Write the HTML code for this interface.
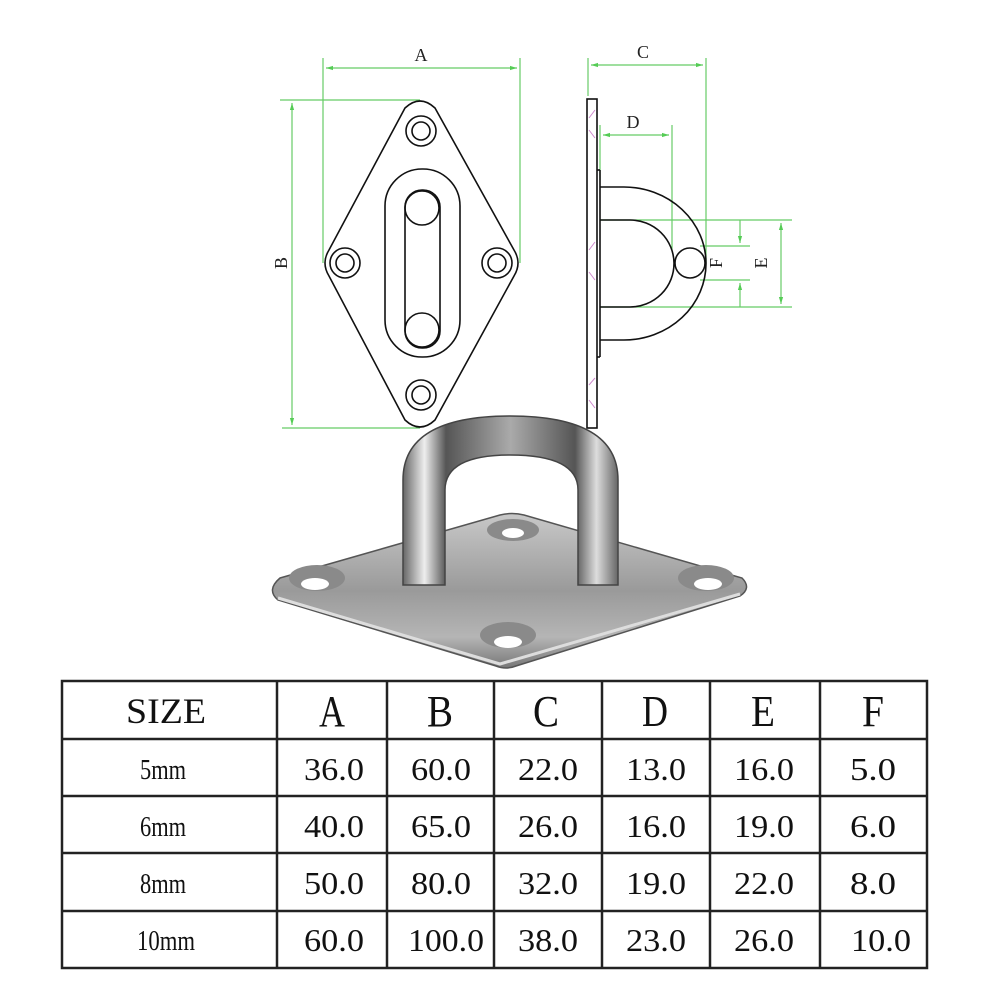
<!DOCTYPE html>
<html><head><meta charset="utf-8"><style>
html,body{margin:0;padding:0;background:#fff;}
svg{display:block}
</style></head><body>
<svg width="1001" height="1001" viewBox="0 0 1001 1001" xmlns="http://www.w3.org/2000/svg" font-family="Liberation Serif, serif">
<defs>
<marker id="ar" viewBox="0 0 10 10" refX="10" refY="5" markerWidth="6" markerHeight="6" orient="auto-start-reverse"><path d="M0,2 L10,5 L0,8z" fill="#5c5"/></marker>
<linearGradient id="plate" x1="0" y1="0" x2="0" y2="1"><stop offset="0" stop-color="#c8c8c8"/><stop offset="0.5" stop-color="#9a9a9a"/><stop offset="0.8" stop-color="#b5b5b5"/><stop offset="1" stop-color="#777"/></linearGradient>
<linearGradient id="loop" x1="0" y1="0" x2="1" y2="0"><stop offset="0" stop-color="#666"/><stop offset="0.1" stop-color="#eee"/><stop offset="0.2" stop-color="#555"/><stop offset="0.5" stop-color="#aaa"/><stop offset="0.8" stop-color="#555"/><stop offset="0.9" stop-color="#ddd"/><stop offset="1" stop-color="#666"/></linearGradient>
</defs>
<g stroke="#6c6" stroke-width="1.2" fill="none">
<line x1="323" y1="58" x2="323" y2="263"/><line x1="520" y1="58" x2="520" y2="263"/>
<line x1="326" y1="68" x2="517" y2="68" marker-start="url(#ar)" marker-end="url(#ar)"/>
<line x1="280" y1="100" x2="420" y2="100"/><line x1="282" y1="428" x2="420" y2="428"/>
<line x1="292" y1="103" x2="292" y2="425" marker-start="url(#ar)" marker-end="url(#ar)"/>
<line x1="588" y1="58" x2="588" y2="96"/><line x1="706" y1="58" x2="706" y2="263"/>
<line x1="591" y1="65" x2="703" y2="65" marker-start="url(#ar)" marker-end="url(#ar)"/>
<line x1="600" y1="125" x2="600" y2="180"/><line x1="672" y1="125" x2="672" y2="250"/>
<line x1="603" y1="135" x2="669" y2="135" marker-start="url(#ar)" marker-end="url(#ar)"/>
<line x1="600" y1="220" x2="792" y2="220"/><line x1="600" y1="307" x2="792" y2="307"/>
<line x1="700" y1="246" x2="750" y2="246"/><line x1="700" y1="280" x2="750" y2="280"/>
<line x1="740" y1="220" x2="740" y2="243" marker-end="url(#ar)"/><line x1="740" y1="307" x2="740" y2="283" marker-end="url(#ar)"/>
<line x1="781" y1="223" x2="781" y2="304" marker-start="url(#ar)" marker-end="url(#ar)"/>
</g>
<g font-size="18" fill="#222" text-anchor="middle">
<text x="421" y="61">A</text><text x="643" y="58">C</text><text x="633" y="128">D</text>
<text transform="translate(287,263) rotate(-90)">B</text>
<text transform="translate(722,263) rotate(-90)">F</text>
<text transform="translate(767,263) rotate(-90)">E</text>
</g>
<g stroke="#111" stroke-width="1.6" fill="none">
<path d="M405,108 Q420,94 435,108 L514,250 Q522,263 514,276 L435,420 Q420,434 405,420 L329,276 Q321,263 329,250 Z"/>
<circle cx="421" cy="131" r="15"/><circle cx="421" cy="131" r="9"/>
<circle cx="421" cy="395" r="15"/><circle cx="421" cy="395" r="9"/>
<circle cx="345" cy="263" r="15"/><circle cx="345" cy="263" r="9"/>
<circle cx="497" cy="263" r="15"/><circle cx="497" cy="263" r="9"/>
<rect x="385" y="169" width="75" height="188" rx="37"/>
<rect x="405" y="190" width="35" height="158" rx="17"/>
<circle cx="422" cy="208" r="17"/><circle cx="422" cy="330" r="17"/>
<rect x="587" y="99" width="10" height="329"/>
<line x1="597" y1="170" x2="600" y2="170"/><line x1="600" y1="170" x2="600" y2="357"/><line x1="597" y1="357" x2="600" y2="357"/>
<path d="M600,187 L624,187 A82,76.5 0 0 1 624,340 L600,340"/>
<path d="M600,220 L630,220 A44,43.5 0 0 1 674,263"/>
<path d="M674,263 A44,43.5 0 0 1 630,307 L600,307"/>
<circle cx="690" cy="263" r="15" fill="#fff"/>
</g>
<g stroke="#c8c" stroke-width="1" fill="none">
<path d="M589,118 L595,110 M589,130 L595,138"/><path d="M589,250 L595,242 M589,272 L595,280"/><path d="M589,385 L595,378 M589,400 L595,408"/>
</g>
<path d="M280,578 L500,515 Q512,512 524,515 L742,578 Q752,588 740,596 L516,666 Q506,670 496,666 L278,600 Q266,590 280,578 Z" fill="url(#plate)" stroke="#555" stroke-width="1.5"/>
<path d="M278,598 L500,664 L740,594" stroke="#ddd" stroke-width="3" fill="none"/>
<ellipse cx="513" cy="530" rx="26" ry="11" fill="#8a8a8a"/><ellipse cx="513" cy="533" rx="11" ry="5" fill="#fff"/>
<ellipse cx="317" cy="578" rx="28" ry="13" fill="#8a8a8a"/><ellipse cx="315" cy="584" rx="14" ry="6" fill="#fff"/>
<ellipse cx="706" cy="578" rx="28" ry="13" fill="#8a8a8a"/><ellipse cx="708" cy="584" rx="14" ry="6" fill="#fff"/>
<ellipse cx="508" cy="635" rx="28" ry="13" fill="#8a8a8a"/><ellipse cx="508" cy="642" rx="14" ry="6" fill="#fff"/>
<path d="M403,585 L403,480 Q403,416 510,416 Q618,416 618,480 L618,585 L578,585 L578,490 Q578,455 510,455 Q445,455 445,490 L445,585 Z" fill="url(#loop)" stroke="#444" stroke-width="1.5"/>
<g stroke="#222" stroke-width="2.5" fill="none">
<rect x="62" y="681" width="865" height="287"/>
<line x1="62" y1="739" x2="927" y2="739"/><line x1="62" y1="796" x2="927" y2="796"/><line x1="62" y1="853" x2="927" y2="853"/><line x1="62" y1="911" x2="927" y2="911"/>
<line x1="277" y1="681" x2="277" y2="968"/><line x1="387" y1="681" x2="387" y2="968"/><line x1="494" y1="681" x2="494" y2="968"/><line x1="602" y1="681" x2="602" y2="968"/><line x1="710" y1="681" x2="710" y2="968"/><line x1="820" y1="681" x2="820" y2="968"/>
</g>
<g fill="#111" text-anchor="middle">
<g font-size="44"><text x="166" y="723" font-size="36" textLength="80" lengthAdjust="spacingAndGlyphs">SIZE</text><text x="332" y="726" textLength="26" lengthAdjust="spacingAndGlyphs">A</text><text x="440" y="726" textLength="26" lengthAdjust="spacingAndGlyphs">B</text><text x="546" y="726" textLength="26" lengthAdjust="spacingAndGlyphs">C</text><text x="655" y="726" textLength="26" lengthAdjust="spacingAndGlyphs">D</text><text x="763" y="726" textLength="24" lengthAdjust="spacingAndGlyphs">E</text><text x="873" y="726" textLength="22" lengthAdjust="spacingAndGlyphs">F</text></g>
<g font-size="32">
<text x="163" y="779" font-size="28" textLength="46" lengthAdjust="spacingAndGlyphs">5mm</text><text x="334" y="780" textLength="60" lengthAdjust="spacingAndGlyphs">36.0</text><text x="441" y="780" textLength="60" lengthAdjust="spacingAndGlyphs">60.0</text><text x="548" y="780" textLength="60" lengthAdjust="spacingAndGlyphs">22.0</text><text x="656" y="780" textLength="60" lengthAdjust="spacingAndGlyphs">13.0</text><text x="764" y="780" textLength="60" lengthAdjust="spacingAndGlyphs">16.0</text><text x="873" y="780" textLength="46" lengthAdjust="spacingAndGlyphs">5.0</text>
<text x="163" y="836" font-size="28" textLength="46" lengthAdjust="spacingAndGlyphs">6mm</text><text x="334" y="837" textLength="60" lengthAdjust="spacingAndGlyphs">40.0</text><text x="441" y="837" textLength="60" lengthAdjust="spacingAndGlyphs">65.0</text><text x="548" y="837" textLength="60" lengthAdjust="spacingAndGlyphs">26.0</text><text x="656" y="837" textLength="60" lengthAdjust="spacingAndGlyphs">16.0</text><text x="764" y="837" textLength="60" lengthAdjust="spacingAndGlyphs">19.0</text><text x="873" y="837" textLength="46" lengthAdjust="spacingAndGlyphs">6.0</text>
<text x="163" y="893" font-size="28" textLength="46" lengthAdjust="spacingAndGlyphs">8mm</text><text x="334" y="894" textLength="60" lengthAdjust="spacingAndGlyphs">50.0</text><text x="441" y="894" textLength="60" lengthAdjust="spacingAndGlyphs">80.0</text><text x="548" y="894" textLength="60" lengthAdjust="spacingAndGlyphs">32.0</text><text x="656" y="894" textLength="60" lengthAdjust="spacingAndGlyphs">19.0</text><text x="764" y="894" textLength="60" lengthAdjust="spacingAndGlyphs">22.0</text><text x="873" y="894" textLength="46" lengthAdjust="spacingAndGlyphs">8.0</text>
<text x="166" y="950" font-size="28" textLength="58" lengthAdjust="spacingAndGlyphs">10mm</text><text x="334" y="951" textLength="60" lengthAdjust="spacingAndGlyphs">60.0</text><text x="446" y="951" textLength="76" lengthAdjust="spacingAndGlyphs">100.0</text><text x="548" y="951" textLength="60" lengthAdjust="spacingAndGlyphs">38.0</text><text x="656" y="951" textLength="60" lengthAdjust="spacingAndGlyphs">23.0</text><text x="764" y="951" textLength="60" lengthAdjust="spacingAndGlyphs">26.0</text><text x="881" y="951" textLength="60" lengthAdjust="spacingAndGlyphs">10.0</text>
</g></g>
</svg>
</body></html>
